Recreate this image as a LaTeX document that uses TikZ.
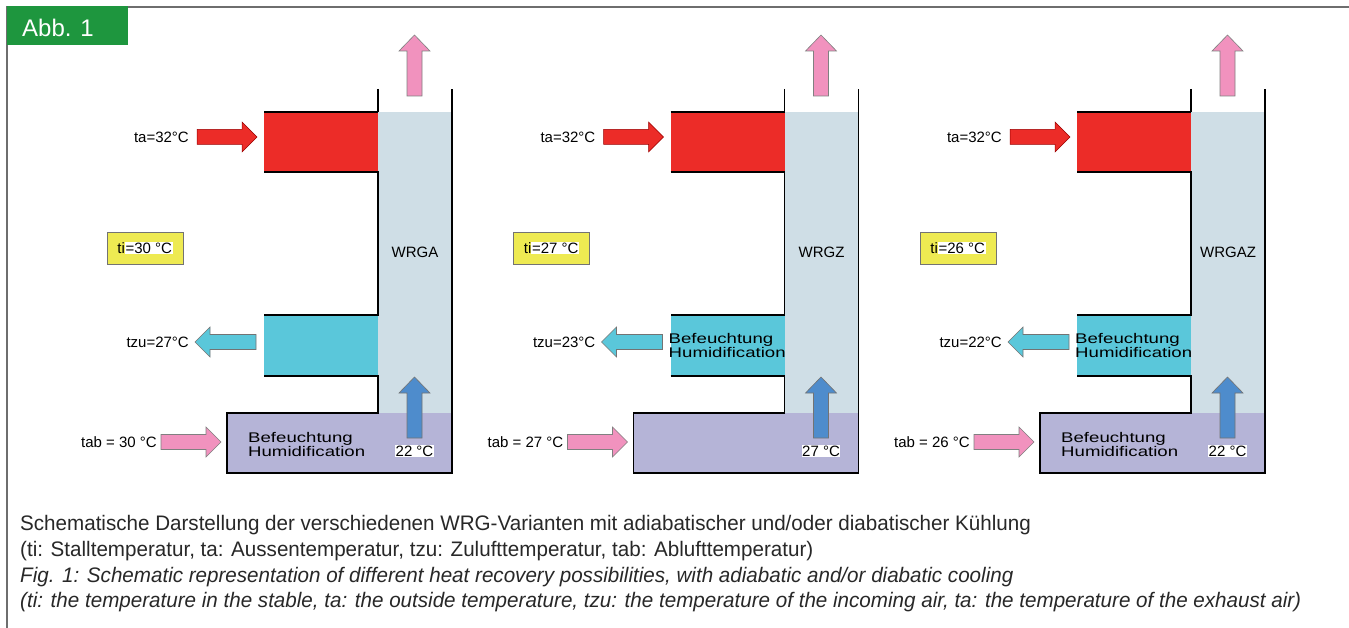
\documentclass[tikz,border=0pt]{standalone}
\usepackage{fontspec}
\usepackage{graphicx}
\setmainfont{Liberation Sans}
\newfontfamily\widefont[FakeStretch=1.33]{Liberation Sans}
\newfontfamily\capfont{Liberation Sans}

\definecolor{abbgreen}{RGB}{30,150,62}
\definecolor{hotred}{RGB}{236,44,40}
\definecolor{coolcyan}{RGB}{90,199,218}
\definecolor{columnblue}{RGB}{207,222,230}
\definecolor{exhaustpurple}{RGB}{181,180,215}
\definecolor{tiyellow}{RGB}{238,234,82}
\definecolor{pinkair}{RGB}{241,146,190}
\definecolor{bluearr}{RGB}{78,140,204}
\definecolor{framegray}{RGB}{110,110,110}
\definecolor{captext}{RGB}{40,40,40}

\newlength\capw
\newcommand\capfour{(ti: the temperature in the stable, ta: the outside temperature, tzu: the temperature of the incoming air, ta: the temperature of the exhaust air)}

\tikzset{
  arrR/.pic={\path[pic actions] (0,-7.5) -- (45,-7.5) -- (45,-15) -- (60,0) -- (45,15) -- (45,7.5) -- (0,7.5) -- cycle;},
  arrL/.pic={\path[pic actions] (61,-7.5) -- (15,-7.5) -- (15,-15) -- (0,0) -- (15,15) -- (15,7.5) -- (61,7.5) -- cycle;},
  arrU/.pic={\path[pic actions] (0,0) -- (15.5,16) -- (7.5,16) -- (7.5,61) -- (-7.5,61) -- (-7.5,16) -- (-15.5,16) -- cycle;},
  wall/.style={draw=black, line width=1.4pt},
  redarrow/.style={fill=hotred, draw=red!60!black, line width=0.5pt},
  cyanarrow/.style={fill=coolcyan, draw=black!55, line width=0.6pt},
  pinkarrow/.style={fill=pinkair, draw=black!50, line width=0.6pt},
  bluearrow/.style={fill=bluearr, draw=black!55, line width=0.6pt},
  lbl/.style={inner sep=0pt, font=\fontsize{15}{18}\selectfont, text=black},
  humid/.style={inner sep=0pt, anchor=north west, align=left, font={\widefont\fontsize{14}{11}\selectfont}, text=black},
  tibox/.style={draw=black!55, line width=0.8pt, fill=tiyellow, minimum width=76pt, minimum height=32pt, inner sep=0pt, font=\fontsize{15}{18}\selectfont},
  capline/.style={anchor=base west, inner sep=0pt, text=captext, font={\capfont\fontsize{21}{25}\selectfont}},
}

\newcommand\wrgpanel[7]{%
\begin{scope}[shift={(#2,0)}]
  \fill[columnblue] (378,112) rectangle (452,413);
  \fill[exhaustpurple] (227,413) rectangle (452,473);
  \fill[hotred] (264,112) rectangle (378,172);
  \fill[coolcyan] (264,315) rectangle (378,376);
  \draw[wall] (378,89) -- (378,112);
  \draw[wall] (264,112) -- (378,112);
  \draw[wall] (264,172) -- (378,172) -- (378,315) -- (264,315);
  \draw[wall] (264,376) -- (378,376) -- (378,413) -- (227,413) -- (227,473) -- (452,473) -- (452,89);
  \pic[redarrow] at (197,137) {arrR};
  \pic[cyanarrow] at (195,342) {arrL};
  \pic[pinkarrow] at (161,442) {arrR};
  \pic[pinkarrow] at (414.5,35) {arrU};
  \pic[bluearrow] at (414.5,377) {arrU};
  \node[lbl, anchor=east] (ta#1) at (189,137) {ta=32°C};
  \node[lbl, anchor=east] (tzu#1) at (189,342) {tzu=#4°C};
  \node[lbl, anchor=east] (tab#1) at (157,442) {tab = #5 °C};
  \node[tibox] (ti#1) at (145,248) {ti{\setlength\fboxsep{0.6pt}\colorbox{white}{=#3 °C}}};
  \node[lbl] (name#1) at (415,252) {#6};
  \node[lbl, fill=white, inner sep=0.6pt] (bt#1) at (414.5,451) {#7 °C};
\end{scope}}

\begin{document}
\settowidth\capw{\capfont\fontsize{21}{25}\selectfont\itshape\capfour}%
\pgfmathsetmacro\capscale{1281/\capw}%
\begin{tikzpicture}[x=1pt, y=-1pt]
  \useasboundingbox (0,0) rectangle (1349,628);
  \fill[white] (0,0) rectangle (1349,628);
  \draw[framegray, line width=1.3pt] (7,628) -- (7,7) -- (1349,7);
  \fill[abbgreen] (6.5,6.5) rectangle (128,45);
  \node[anchor=base west, inner sep=0pt, text=white, font=\fontsize{24}{28}\selectfont] (abb) at (22,37) {Abb. 1};

  \wrgpanel{1}{0}{30}{27}{30}{WRGA}{22}
  \wrgpanel{2}{406.5}{27}{23}{27}{WRGZ}{27}
  \wrgpanel{3}{813}{26}{22}{26}{WRGAZ}{22}

  \node[humid] (hum1) at (248,432) {Befeuchtung\\Humidification};
  \node[humid] (hum2) at (406.5+262,333) {Befeuchtung\\Humidification};
  \node[humid] (hum3a) at (813+262,333) {Befeuchtung\\Humidification};
  \node[humid] (hum3b) at (813+248,432) {Befeuchtung\\Humidification};

  \node[capline] (cap1) at (20,530) {\scalebox{\capscale}[1]{Schematische Darstellung der verschiedenen WRG-Varianten mit adiabatischer und/oder diabatischer Kühlung}};
  \node[capline] (cap2) at (20,556) {\scalebox{\capscale}[1]{(ti: Stalltemperatur, ta: Aussentemperatur, tzu: Zulufttemperatur, tab: Ablufttemperatur)}};
  \node[capline] (cap3) at (20,582) {\scalebox{\capscale}[1]{\itshape Fig. 1: Schematic representation of different heat recovery possibilities, with adiabatic and/or diabatic cooling}};
  \node[capline] (cap4) at (20,607) {\scalebox{\capscale}[1]{\itshape\capfour}};
\end{tikzpicture}
\end{document}
